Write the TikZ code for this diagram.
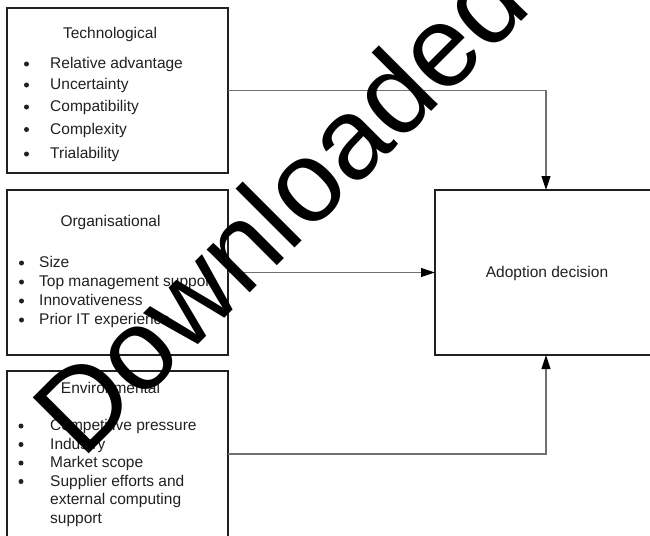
\documentclass[tikz,border=0pt]{standalone}
\usepackage{fontspec}
\setmainfont{Liberation Sans}
\usetikzlibrary{arrows.meta}
\definecolor{ink}{HTML}{231F20}
\definecolor{wire}{HTML}{707070}
\begin{document}
\begin{tikzpicture}[x=1pt,y=-1pt,
  panel/.style={draw=ink, line width=1.3pt, minimum width=221pt,
    minimum height=165pt, inner sep=0pt, outer sep=0pt},
  txt/.style={font=\fontsize{15.5}{18}\selectfont, text=ink, inner sep=0pt},
  head/.style={txt, anchor=base},
  item/.style={txt, anchor=base west},
  dot/.style={circle, fill=ink, inner sep=0pt, minimum size=5pt},
  link/.style={draw=wire, line width=1.1pt,
    -{Triangle[length=14pt,width=9pt,color=black]}},
  stamp/.style={font=\fontsize{115}{120}\selectfont, text=black,
    inner sep=0pt, rotate=45, anchor=base west}]
\useasboundingbox (0,0) rectangle (650,535);
\clip (0,0) rectangle (650,535);

% factor panels and the decision box
\node[panel] (tech) at (117.5,90.5) {};
\node[panel] (org) at (117.5,272.5) {};
\node[panel, minimum height=166pt] (env) at (117.5,454) {};
\node[panel, minimum width=222pt] (adopt) at (546,272.5) {};

% connectors
\draw[link] (tech.east) -| (adopt.north);
\draw[link] (org.east) -- (adopt.west);
\draw[link] (env.east) -| (adopt.south);

% technological
\node[head] (techT) at (110,39) {Technological};
\foreach \t/\y [count=\i] in {Relative advantage/68.5, Uncertainty/89.5,
    Compatibility/111.5, Complexity/134, Trialability/158.5} {
  \node[dot] (techB\i) at (26.5,\y-4.5) {};
  \node[item] (techI\i) at (50,\y) {\t};
}

% organisational
\node[head] (orgT) at (110.5,226.5) {Organisational};
\foreach \t/\y [count=\i] in {Size/267.5, Top management support/286.5,
    Innovativeness/305.5, Prior IT experience/324.5} {
  \node[dot] (orgB\i) at (21.5,\y-4.5) {};
  \node[item] (orgI\i) at (39,\y) {\t};
}

% environmental
\node[head] (envT) at (110.5,393.5) {Environmental};
\foreach \t/\y [count=\i] in {Competitive pressure/430.5, Industry/449,
    Market scope/467.5, Supplier efforts and/486} {
  \node[dot] (envB\i) at (21,\y-4.5) {};
  \node[item] (envI\i) at (50,\y) {\t};
}
\node[item] (envI5) at (50,504.5) {external computing};
\node[item] (envI6) at (50,523) {support};

% decision
\node[head] (adoptT) at (547,277.5) {Adoption decision};

% diagonal stamp across the figure
\node[stamp] (wm) at (82,461) {Downloaded};
\end{tikzpicture}
\end{document}
